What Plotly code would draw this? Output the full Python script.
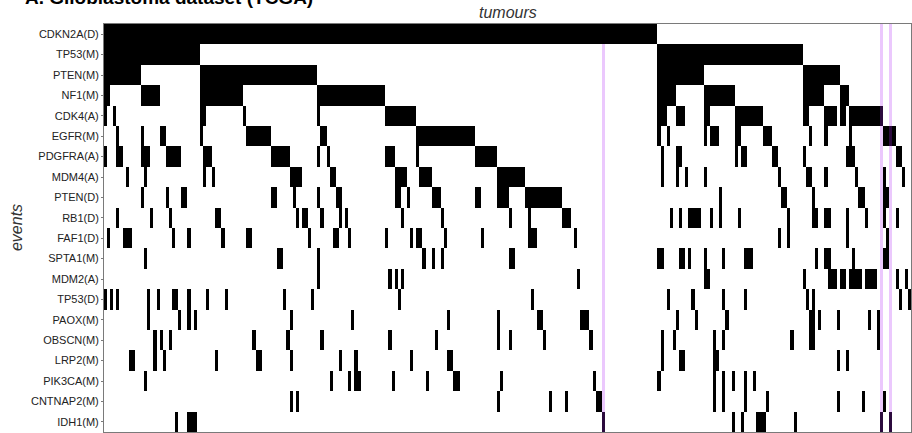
import plotly.graph_objects as go
import numpy as np

N_TUMOURS = 261

events = ["CDKN2A(D)", "TP53(M)", "PTEN(M)", "NF1(M)", "CDK4(A)", "EGFR(M)",
          "PDGFRA(A)", "MDM4(A)", "PTEN(D)", "RB1(D)", "FAF1(D)", "SPTA1(M)",
          "MDM2(A)", "TP53(D)", "PAOX(M)", "OBSCN(M)", "LRP2(M)", "PIK3CA(M)",
          "CNTNAP2(M)", "IDH1(M)"]

# altered tumours per event: a single tumour index, or a run (first, stop)
CDKN2A_D = [(0, 179)]
TP53_M = [(0, 31), (179, 226)]
PTEN_M = [(0, 12), (31, 69), (179, 194), (226, 238)]
NF1_M = [(0, 2), (12, 18), (31, 45), (69, 91), (179, 185), (194, 204), (226, 233), (238, 241)]
CDK4_A = [0, 3, (31, 33), 45, 69, (91, 101), (179, 182), (185, 188), (194, 196), (204, 213),
          (226, 228), (233, 237), (238, 240), (241, 252)]
EGFR_M = [4, 12, (18, 20), 31, (46, 54), (70, 72), (101, 120), 179, 182, 194, (196, 199),
          (204, 206), (213, 216), 228, 233, 241, (252, 256)]
PDGFRA_A = [0, (4, 6), (12, 15), (20, 25), (32, 35), (54, 60), 69, 72, (91, 94), 101, (120, 127),
            180, (185, 187), 204, (206, 208), (216, 218), 226, (240, 243), (256, 258)]
MDM4_A = [7, 13, 32, 35, (60, 64), (73, 75), (94, 98), (102, 106), (127, 136), 180, 185, 188,
          194, 218, (227, 229), 233, 243, 252, 258]
PTEN_D = [12, 20, (25, 27), (54, 56), 61, 69, (75, 77), (94, 96), 98, (106, 109), (120, 122),
          (127, 131), (136, 148), 199, (219, 221), 229, (244, 246), (252, 254)]
RB1_D = [4, 15, 21, (36, 38), 62, (64, 66), 70, 76, 78, 96, 109, 131, 137, (148, 151), 183, 186,
         (189, 193), 196, 199, 205, 221, (229, 231), (233, 235), 240, 246, 252, 256]
FAF1_D = [1, (6, 9), 22, 27, 38, (46, 48), 66, (74, 76), 79, 91, 99, (101, 103), 110, 122,
          (137, 140), 152, 218, 221, 240, 253]
SPTA1_M = [13, (56, 58), 69, 103, 106, 109, (131, 133), (179, 181), (186, 188), 189, 194, 200,
           (207, 210), 230, (233, 235), 242, (252, 254)]
MDM2_A = [69, 92, 94, 96, 153, (194, 196), 226, (234, 237), (238, 240), (241, 245), (246, 250),
          256, 259]
TP53_D = [0, 2, 4, 14, 17, (22, 24), 27, 33, 39, 58, 67, 95, 138, 182, 190, 200, 207, 227, 229,
          257, 260]
PAOX_M = [14, 24, 27, 29, 60, 80, 111, 127, (140, 142), (154, 157), 185, 191, 201, (228, 230),
          231, 237, 247, 250]
OBSCN_M = [16, 18, 21, 48, 59, 70, 92, 107, 127, 131, 142, 157, 180, 184, 197, 200, 222,
           (228, 230), 250]
LRP2_M = [(8, 10), 16, 19, 36, (49, 51), 60, 76, 81, 99, (111, 113), 180, (186, 188), (197, 199),
          237, 240]
PIK3CA_M = [13, 73, 79, (81, 83), 93, 104, (113, 115), 128, 158, 179, 197, 200, 203, 207, 210]
CNTNAP2_M = [60, 62, 127, 144, 149, (159, 161), 197, 200, 207, 214, 237, 245, 252]
IDH1_M = [23, (27, 30), 161, 203, 206, (211, 214), 223, 251, 254]

# highlighted tumours and the first event row their highlight covers
highlighted_tumours = [161, 251, 254]
highlight_first_event = [1, 0, 0]

rows = [CDKN2A_D, TP53_M, PTEN_M, NF1_M, CDK4_A, EGFR_M, PDGFRA_A, MDM4_A, PTEN_D, RB1_D,
        FAF1_D, SPTA1_M, MDM2_A, TP53_D, PAOX_M, OBSCN_M, LRP2_M, PIK3CA_M, CNTNAP2_M, IDH1_M]

z = np.zeros((len(events), N_TUMOURS), dtype=int)
for i, runs in enumerate(rows):
    for r in runs:
        if isinstance(r, tuple):
            z[i, r[0]:r[1]] = 1
        else:
            z[i, r] = 1
for c, first in zip(highlighted_tumours, highlight_first_event):
    z[first:, c] = z[first:, c] + 2  # 2 = highlighted absent, 3 = highlighted present

WHITE, BLACK, LAV, DARK = "#ffffff", "#000000", "#ebc8fd", "#2c0a3e"
colorscale = [[0, WHITE], [0.1667, WHITE], [0.1667, BLACK], [0.5, BLACK],
              [0.5, LAV], [0.8333, LAV], [0.8333, DARK], [1, DARK]]

fig = go.Figure(go.Heatmap(
    z=z, x=list(range(N_TUMOURS)), y=events,
    zmin=0, zmax=3, colorscale=colorscale, showscale=False,
    hoverinfo="skip"))

FONT = "Liberation Sans, Arial, sans-serif"
frame = "#7a7a7a"
fig.update_layout(
    width=912, height=433,
    margin=dict(l=104, r=1, t=24, b=1),
    paper_bgcolor="white", plot_bgcolor="white",
    font=dict(family=FONT, color="#222222"),
    xaxis=dict(range=[-0.5, N_TUMOURS - 0.5], showticklabels=False, ticks="",
               showgrid=False, zeroline=False, showline=True, mirror=True,
               linecolor=frame, linewidth=1),
    yaxis=dict(type="category", autorange="reversed", showgrid=False, zeroline=False,
               ticks="outside", ticklen=2, tickcolor=frame,
               tickfont=dict(size=11, family=FONT, color="#222222"),
               showline=True, mirror=True, linecolor=frame, linewidth=1),
    annotations=[
        dict(text="<i>tumours</i>", xref="paper", yref="paper", x=0.5, y=1.0,
             xanchor="center", yanchor="bottom", yshift=1, showarrow=False,
             font=dict(size=16, family=FONT, color="#333333")),
        dict(text="<i>events</i>", xref="paper", yref="paper", x=-0.109, y=0.5,
             xanchor="center", yanchor="middle", textangle=-90, showarrow=False,
             font=dict(size=16, family=FONT, color="#333333")),
        dict(text="<b>A. Glioblastoma dataset (TCGA)</b>", xref="paper", yref="paper",
             x=-0.1004, y=1.066, xanchor="left", yanchor="middle", showarrow=False,
             font=dict(size=19, family=FONT, color="#000000")),
    ],
)

fig.write_html("out.html",
               config={"displayModeBar": False},
               post_script="document.body.style.margin='0px';"
                           "document.body.style.padding='0px';"
                           "document.documentElement.style.overflow='hidden';")
